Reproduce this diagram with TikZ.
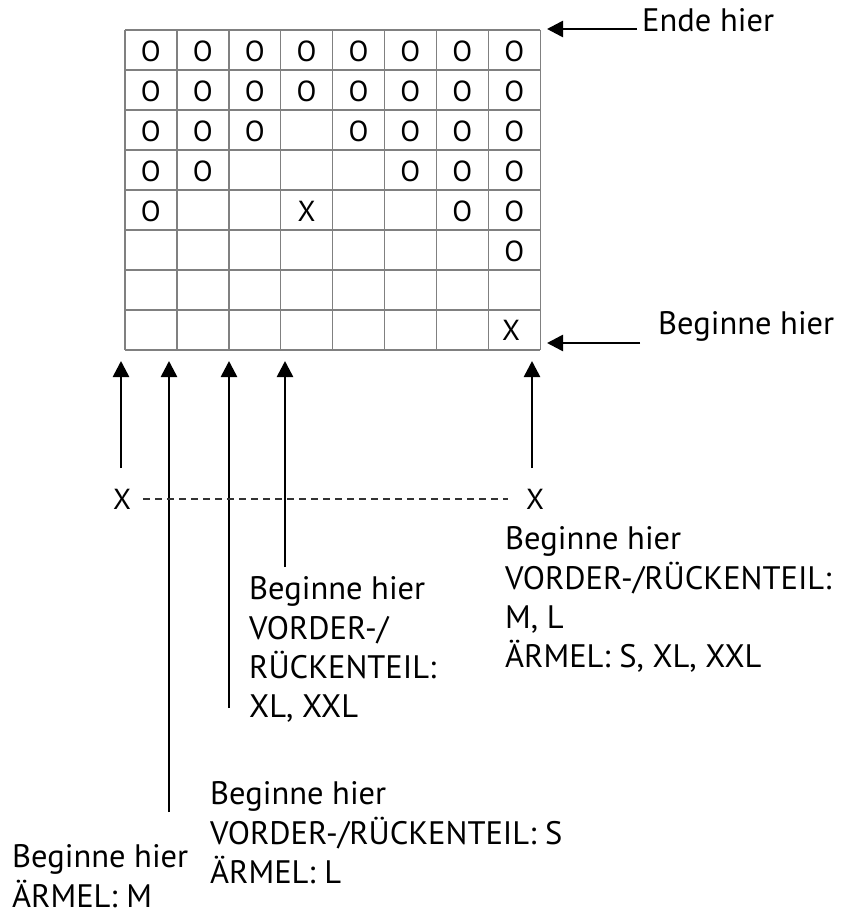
\documentclass[tikz,border=0pt]{standalone}
\usepackage{fontspec}
\setmainfont{PT Sans}
\usetikzlibrary{arrows.meta}

\tikzset{
  gitter/.style={draw=black!50, line width=1.4pt},
  masche/.style={inner sep=0pt, font=\fontsize{29}{29}\selectfont},
  hinweis/.style={anchor=north west, align=left, inner sep=0pt,
    font=\fontsize{32.5}{39.3}\selectfont},
  pfeil/.style={-{Triangle[length=16pt,width=16pt]}, line width=2.6pt},
  strich/.style={draw=black!80, line width=1.6pt, dash pattern=on 7pt off 5pt}
}

\begin{document}
\begin{tikzpicture}[x=1pt, y=-1pt]
    \useasboundingbox (0,0) rectangle (842,915);

    % Raster 8 x 8
    \foreach \i in {0,...,8} {
        \draw[gitter] (125+51.9*\i, 30) -- (125+51.9*\i, 350);
        \draw[gitter] (125, 30+40*\i) -- (540.2, 30+40*\i);
    }

    % Maschen
    \foreach \r/\cols in {1/{1,2,3,4,5,6,7,8}, 2/{1,2,3,4,5,6,7,8},
                          3/{1,2,3,5,6,7,8}, 4/{1,2,6,7,8}, 5/{1,7,8}, 6/{8}} {
        \foreach \c in \cols
            \node[masche] (m-\r-\c) at (125+51.9*\c-26, 30+40*\r-19) {O};
    }
    \node[masche] (m-5-4) at (125+51.9*4-26, 30+40*5-19) {X};
    \node[masche] (m-8-8) at (125+51.9*8-29, 30+40*8-20) {X};

    % rechts
    \node[hinweis] (ende) at (642, 8.5) {Ende hier};
    \coordinate (ende-pfeil) at (547, 29);
    \draw[pfeil] (ende.west |- ende-pfeil) ++(-5,0) -- (ende-pfeil);

    \node[hinweis] (beginn) at (658, 311.5) {Beginne hier};
    \coordinate (beginn-pfeil) at (547, 343);
    \draw[pfeil] (640, 343) -- (beginn-pfeil);

    % Pfeile unten
    \coordinate (t1) at (121, 361);
    \coordinate (t2) at (169, 361);
    \coordinate (t3) at (229, 361);
    \coordinate (t4) at (285, 361);
    \coordinate (t5) at (532, 361);
    \coordinate (b1) at (121, 468);
    \coordinate (b2) at (169, 812);
    \coordinate (b3) at (229, 708);
    \coordinate (b4) at (285, 567);
    \coordinate (b5) at (532, 468);
    \foreach \k in {1,...,5}
        \draw[pfeil] (b\k) -- (t\k);

    % Mittellinie
    \node[masche] (xl) at (122, 499) {X};
    \node[masche] (xr) at (535, 499) {X};
    \draw[strich] (143, 499) -- (508, 499);

    % Texte
    \node[hinweis] (ml) at (505, 526.5)
        {Beginne hier\\VORDER-/RÜCKENTEIL:\\M, L\\ÄRMEL: S, XL, XXL};
    \node[hinweis] (xxl) at (249, 576.5)
        {Beginne hier\\VORDER-/\\RÜCKENTEIL:\\XL, XXL};
    \node[hinweis] (s) at (210, 781.5)
        {Beginne hier\\VORDER-/RÜCKENTEIL: S\\ÄRMEL: L};
    \node[hinweis] (m) at (12, 844.5)
        {Beginne hier\\ÄRMEL: M};
\end{tikzpicture}
\end{document}
